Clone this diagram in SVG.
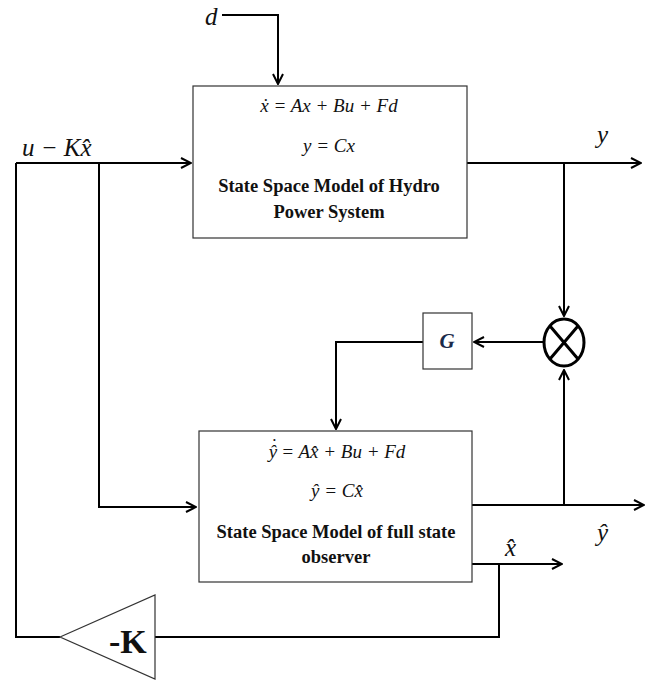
<svg xmlns="http://www.w3.org/2000/svg" width="656" height="682" viewBox="0 0 656 682">
<defs>
<marker id="arr" viewBox="0 0 12 12" refX="11" refY="6" markerWidth="12" markerHeight="12" markerUnits="userSpaceOnUse" orient="auto">
<path d="M1,1 L11,6 L1,11" fill="none" stroke="#000" stroke-width="2"/>
</marker>
<style>
.box{fill:#fff;stroke:#333;stroke-width:1.2}
.ln{fill:none;stroke:#000;stroke-width:2}
.eq{font-family:"Liberation Serif",serif;font-style:italic;font-size:19px;fill:#111;text-anchor:middle}
.lab{font-family:"Liberation Serif",serif;font-style:italic;font-size:25px;fill:#111}
.bt{font-family:"Liberation Serif",serif;font-weight:bold;font-size:18.5px;fill:#111;text-anchor:middle}
</style>
</defs>
<rect width="656" height="682" fill="#fff"/>
<g id="connectors">
<path class="ln" d="M222,15 H278 V84" marker-end="url(#arr)"/>
<path class="ln" d="M16,163 H191" marker-end="url(#arr)"/>
<path class="ln" d="M16,163 V637 H60"/>
<path class="ln" d="M99,163 V507 H196" marker-end="url(#arr)"/>
<path class="ln" d="M467,163 H641" marker-end="url(#arr)"/>
<path class="ln" d="M564,163 V316" marker-end="url(#arr)"/>
<path class="ln" d="M543,342 H474" marker-end="url(#arr)"/>
<path class="ln" d="M423,342 H336 V429" marker-end="url(#arr)"/>
<path class="ln" d="M472,505 H644" marker-end="url(#arr)"/>
<path class="ln" d="M564,505 V370" marker-end="url(#arr)"/>
<path class="ln" d="M472,564 H562" marker-end="url(#arr)"/>
<path class="ln" d="M499,564 V637 H155"/>
</g>
<g id="plant">
<rect class="box" x="193" y="86" width="274" height="152"/>
<text class="eq" x="329" y="112">ẋ = Ax + Bu + Fd</text>
<text class="eq" x="329" y="152">y = Cx</text>
<text class="bt" x="329" y="192">State Space Model of Hydro</text>
<text class="bt" x="329" y="218">Power System</text>
</g>
<g id="observer">
<rect class="box" x="199" y="431" width="273" height="151"/>
<text class="eq" x="337" y="458">ŷ<tspan dx="-7" dy="-6">˙</tspan><tspan dy="6"> = Ax̂ + Bu + Fd</tspan></text>
<text class="eq" x="337" y="497">ŷ = Cx̂</text>
<text class="bt" x="336" y="538">State Space Model of full state</text>
<text class="bt" x="336" y="563">observer</text>
</g>
<g id="gain-G">
<rect class="box" x="423" y="313" width="49" height="56"/>
<text x="447" y="348" font-family="Liberation Serif,serif" font-weight="bold" font-style="italic" font-size="21" fill="#1a2a4a" text-anchor="middle">G</text>
</g>
<g id="sum">
<ellipse cx="564" cy="342.5" rx="20" ry="23.5" fill="#fff" stroke="#000" stroke-width="3"/>
<path d="M550,326 L578,359 M578,326 L550,359" stroke="#000" stroke-width="3" fill="none"/>
</g>
<g id="gain-K">
<polygon points="60,637 155,595 155,679" fill="#fff" stroke="#333" stroke-width="1.2"/>
<text x="109" y="653" font-family="Liberation Serif,serif" font-weight="bold" font-size="34" fill="#111">-K</text>
</g>
<g id="labels">
<text class="lab" x="205" y="25">d</text>
<text class="lab" x="22" y="156">u − Kx̂</text>
<text class="lab" x="597" y="143">y</text>
<text class="lab" x="597" y="541">ŷ</text>
<text class="lab" x="505" y="556">x̂</text>
</g>
</svg>
